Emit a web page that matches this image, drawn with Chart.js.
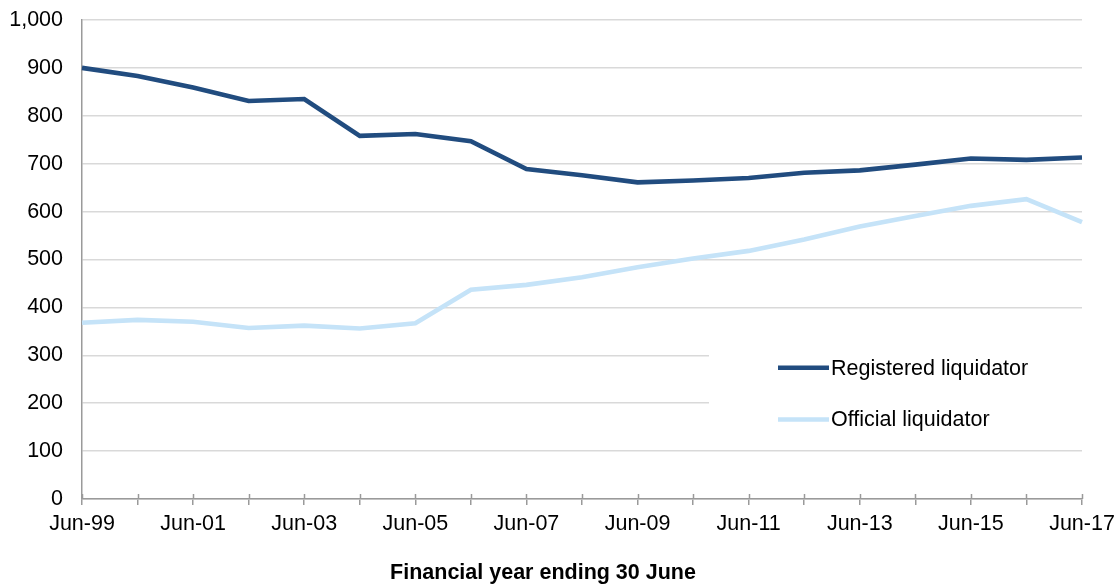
<!DOCTYPE html>
<html>
<head>
<meta charset="utf-8">
<script src="https://cdn.jsdelivr.net/npm/chart.js@4.4.1/dist/chart.umd.min.js"></script>
<style>
  html, body { margin: 0; padding: 0; background: #ffffff; }
  #wrap { width: 1118px; height: 584px; position: relative; }
</style>
</head>
<body>
<div id="wrap"><canvas id="c" width="1118" height="584"></canvas></div>
<script>
const categories = ['Jun-99','Jun-00','Jun-01','Jun-02','Jun-03','Jun-04','Jun-05','Jun-06','Jun-07','Jun-08','Jun-09','Jun-10','Jun-11','Jun-12','Jun-13','Jun-14','Jun-15','Jun-16','Jun-17'];
const registeredLiquidator = [900, 883, 859, 831, 835, 758, 762, 747, 689, 676, 661, 665, 670, 681, 686, 698, 711, 708, 713];
const officialLiquidator = [368, 374, 370, 357, 362, 356, 367, 437, 447, 463, 484, 502, 518, 542, 569, 591, 612, 626, 578];
const yTicks = [0, 100, 200, 300, 400, 500, 600, 700, 800, 900, 1000];
const seriesNames = ['Registered liquidator', 'Official liquidator'];
const seriesColors = ['#214c7f', '#c5e3f8'];
const xAxisTitle = 'Financial year ending 30 June';

const FONT = '"Liberation Sans", Arial, sans-serif';
const FS = 21.5;

const extrasPlugin = {
  id: 'extras',
  afterDraw(chart) {
    const ctx = chart.ctx;
    const xs = chart.scales.x;
    const ys = chart.scales.y;
    const area = chart.chartArea;
    ctx.save();
    // upward part of x tick marks
    ctx.strokeStyle = '#9a9a9a';
    ctx.lineWidth = 1.5;
    for (let i = 0; i < categories.length; i++) {
      const px = Math.round(xs.getPixelForValue(i)) + 0.5;
      ctx.beginPath();
      ctx.moveTo(px, area.bottom);
      ctx.lineTo(px, area.bottom - 5);
      ctx.stroke();
    }
    // legend box covering gridlines
    const lx = 709;
    ctx.fillStyle = '#ffffff';
    ctx.fillRect(lx, ys.getPixelForValue(355), area.right - lx + 1, ys.getPixelForValue(145) - ys.getPixelForValue(355));
    const rows = [ys.getPixelForValue(274), ys.getPixelForValue(166)];
    ctx.font = FS + 'px ' + FONT;
    ctx.textBaseline = 'middle';
    ctx.textAlign = 'left';
    for (let k = 0; k < 2; k++) {
      ctx.strokeStyle = seriesColors[k];
      ctx.lineWidth = 4.5;
      ctx.lineCap = 'butt';
      ctx.beginPath();
      ctx.moveTo(778, rows[k]);
      ctx.lineTo(829, rows[k]);
      ctx.stroke();
      ctx.fillStyle = '#000000';
      ctx.fillText(seriesNames[k], 831, rows[k] + 1);
    }
    // axis title
    ctx.font = 'bold ' + FS + 'px ' + FONT;
    ctx.textAlign = 'center';
    ctx.fillStyle = '#000000';
    ctx.fillText(xAxisTitle, 543, 573);
    ctx.restore();
  }
};

new Chart(document.getElementById('c'), {
  type: 'line',
  data: {
    labels: categories,
    datasets: [
      { label: seriesNames[0], data: registeredLiquidator, borderColor: seriesColors[0], backgroundColor: seriesColors[0], borderWidth: 4.6, pointRadius: 0, tension: 0, fill: false },
      { label: seriesNames[1], data: officialLiquidator, borderColor: seriesColors[1], backgroundColor: seriesColors[1], borderWidth: 4.6, pointRadius: 0, tension: 0, fill: false }
    ]
  },
  options: {
    responsive: false,
    animation: false,
    devicePixelRatio: 1,
    layout: { padding: { top: 20, right: 36, left: 0, bottom: 0 } },
    plugins: { legend: { display: false }, tooltip: { enabled: false }, title: { display: false } },
    scales: {
      x: {
        type: 'category',
        offset: false,
        afterFit(scale) { scale.height = 85; scale.paddingLeft = 0; scale.paddingRight = 0; },
        grid: { display: true, drawOnChartArea: false, drawTicks: true, tickLength: 6, color: '#9a9a9a', lineWidth: 1.5 },
        border: { display: true, color: '#9a9a9a', width: 1.5 },
        ticks: {
          autoSkip: false, maxRotation: 0, minRotation: 0, padding: 6,
          color: '#000000', font: { family: FONT, size: FS },
          callback(value, index) { return index % 2 === 0 ? categories[index] : ''; }
        }
      },
      y: {
        min: 0, max: 1000,
        afterFit(scale) { scale.width = 82; scale.paddingTop = 0; scale.paddingBottom = 0; },
        afterBuildTicks(scale) { scale.ticks = yTicks.map(v => ({ value: v })); },
        grid: { display: true, drawTicks: false, color: '#d9d9d9', lineWidth: 1.5 },
        border: { display: true, color: '#9a9a9a', width: 1.5 },
        ticks: {
          padding: 19, color: '#000000', font: { family: FONT, size: FS },
          callback(value) { return Number(value).toLocaleString('en-US'); }
        }
      }
    }
  },
  plugins: [extrasPlugin]
});
</script>
</body>
</html>
